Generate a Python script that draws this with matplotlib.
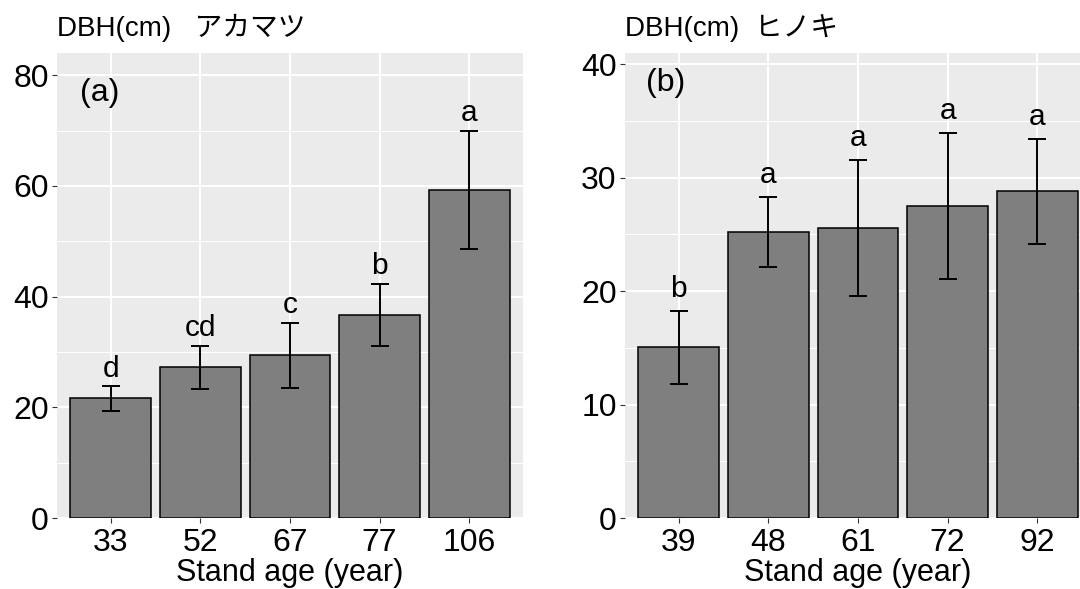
import numpy as np
import matplotlib
matplotlib.use("Agg")
import matplotlib.pyplot as plt
from matplotlib.ticker import MultipleLocator

plt.rcParams['font.family'] = ['Liberation Sans', 'Noto Sans CJK JP', 'DejaVu Sans']

# (a) アカマツ
ages_a = ['33', '52', '67', '77', '106']
dbh_a = [21.6, 27.2, 29.4, 36.7, 59.3]
sd_a = [2.2, 3.95, 5.85, 5.6, 10.7]
sig_a = ['d', 'cd', 'c', 'b', 'a']

# (b) ヒノキ
ages_b = ['39', '48', '61', '72', '92']
dbh_b = [15.05, 25.2, 25.6, 27.5, 28.8]
sd_b = [3.2, 3.1, 6.0, 6.45, 4.65]
sig_b = ['b', 'a', 'a', 'a', 'a']

W, H = 1080, 589
fig = plt.figure(figsize=(W / 100, H / 100), dpi=100)

ax1 = fig.add_axes([57 / W, (H - 518) / H, 466 / W, 465 / H])
ax2 = fig.add_axes([625 / W, (H - 518) / H, 466 / W, 465 / H])


def panel(ax, ages, vals, sds, sig, ymax, major, minor, title, tag, tagpos, txtoff):
    ax.set_facecolor('#EBEBEB')
    x = np.arange(len(ages))
    ax.bar(x, vals, width=0.9, color='#7F7F7F', edgecolor='black', linewidth=1.1, zorder=3)
    ax.errorbar(x, vals, yerr=sds, fmt='none', ecolor='black', elinewidth=1.4,
                capsize=6.5, capthick=1.4, zorder=4)
    for xi, v, s, lab in zip(x, vals, sds, sig):
        ax.annotate(lab, (xi, v + s), xytext=(0, txtoff), textcoords='offset points',
                    ha='center', va='baseline', fontsize=21.5, zorder=5)
    ax.set_xlim(-0.6, len(ages) - 0.4)
    ax.set_ylim(0, ymax)
    ax.set_xticks(x)
    ax.set_xticklabels(ages)
    ax.yaxis.set_major_locator(MultipleLocator(major))
    ax.yaxis.set_minor_locator(MultipleLocator(minor))
    ax.grid(which='major', color='white', linewidth=1.5, zorder=0)
    ax.grid(which='minor', axis='y', color='white', linewidth=0.75, zorder=0)
    ax.set_axisbelow(True)
    for sp in ax.spines.values():
        sp.set_visible(False)
    ax.tick_params(which='major', length=3.5, width=0.8, color='#333333',
                   labelsize=23, labelcolor='black', pad=2.5)
    ax.tick_params(axis='x', which='major', pad=3.5)
    ax.tick_params(which='minor', length=0)
    ax.set_xlabel('Stand age (year)', fontsize=22, labelpad=0.5)
    ax.set_title(title, loc='left', fontsize=20, pad=12)
    ax.text(tagpos[0], tagpos[1], tag, transform=ax.transAxes, fontsize=23,
            ha='left', va='center')


panel(ax1, ages_a, dbh_a, sd_a, sig_a, 84, 20, 10,
      'DBH(cm)   アカマツ', '(a)', (0.05, 0.915), 7)
panel(ax2, ages_b, dbh_b, sd_b, sig_b, 41, 10, 5,
      'DBH(cm)  ヒノキ', '(b)', (0.045, 0.935), 10)

fig.savefig('out.png', dpi=100)
